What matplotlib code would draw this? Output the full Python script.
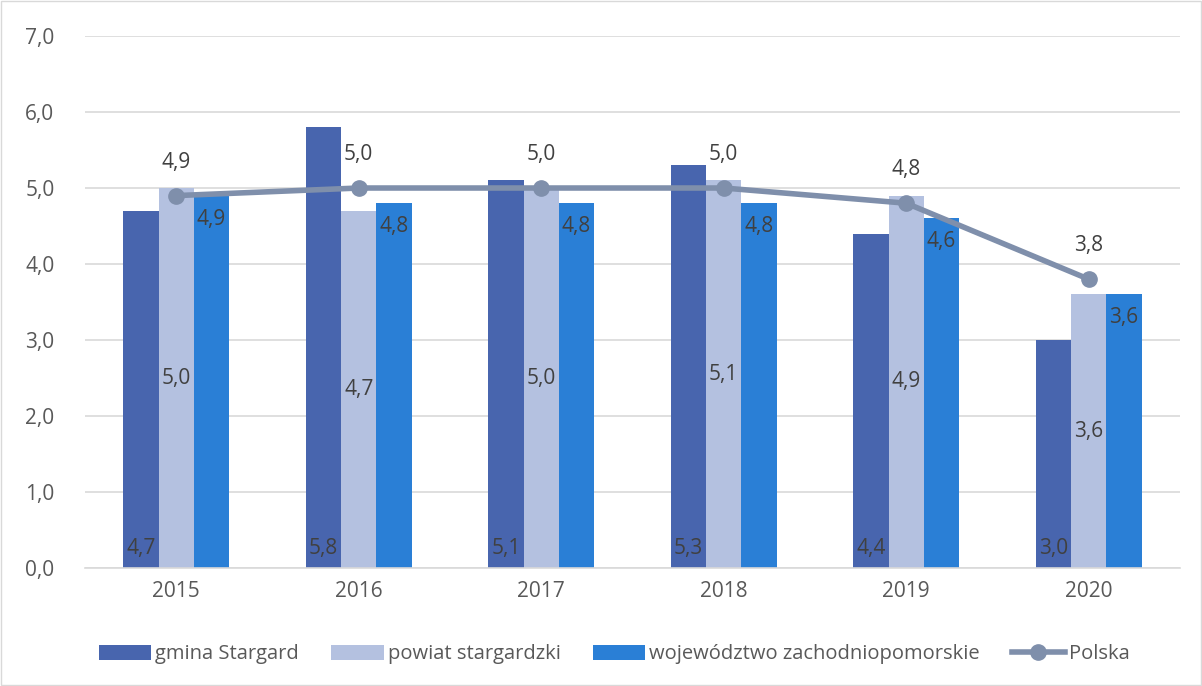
import numpy as np
import matplotlib.pyplot as plt

plt.rcParams['font.family'] = ['Open Sans', 'DejaVu Sans']

lata = ['2015', '2016', '2017', '2018', '2019', '2020']
gmina = [4.7, 5.8, 5.1, 5.3, 4.4, 3.0]
powiat = [5.0, 4.7, 5.0, 5.1, 4.9, 3.6]
wojew = [4.9, 4.8, 4.8, 4.8, 4.6, 3.6]
polska = [4.9, 5.0, 5.0, 5.0, 4.8, 3.8]

c_gm = '#4865ae'
c_pw = '#b4c1e0'
c_wj = '#2a7fd6'
c_pl = '#7f8fab'
c_txt = '#404040'

def fmt(v):
    return ('%.1f' % v).replace('.', ',')

fig = plt.figure(figsize=(12.02, 6.86), dpi=100)
ax = fig.add_axes([0.0707, 0.172, 0.911, 0.7755])

x = np.arange(len(lata))
w = 0.193
b1 = ax.bar(x - w, gmina, w, color=c_gm, label='gmina Stargard', zorder=2)
b2 = ax.bar(x, powiat, w, color=c_pw, label='powiat stargardzki', zorder=2)
b3 = ax.bar(x + w, wojew, w, color=c_wj, label='województwo zachodniopomorskie', zorder=2)
ln, = ax.plot(x, polska, color=c_pl, lw=4, marker='o', ms=11, label='Polska', zorder=3)

fs = 15
for i in range(len(lata)):
    ax.text(x[i] - w, 0.12, fmt(gmina[i]), ha='center', va='bottom', fontsize=fs, color=c_txt, zorder=4)
    ax.text(x[i], powiat[i] / 2, fmt(powiat[i]), ha='center', va='center', fontsize=fs, color=c_txt, zorder=4)
    ax.text(x[i] + w, wojew[i] - 0.17, fmt(wojew[i]), ha='center', va='top', fontsize=fs, color=c_txt, zorder=4)
    ax.text(x[i], polska[i] + 0.3, fmt(polska[i]), ha='center', va='bottom', fontsize=fs, color=c_txt, zorder=4)

ax.set_xlim(-0.5, 5.5)
ax.set_ylim(0, 7)
ax.set_yticks(np.arange(0, 7.1, 1))
ax.set_yticklabels([fmt(v) for v in np.arange(0, 7.1, 1)])
ax.set_xticks(x)
ax.set_xticklabels(lata)
ax.tick_params(axis='both', length=0, labelsize=15, labelcolor='#595959')
ax.tick_params(axis='y', pad=22)
ax.tick_params(axis='x', pad=9)
ax.grid(axis='y', color='#d9d9d9', lw=1.2, zorder=0)
ax.set_axisbelow(True)
for s in ['top', 'right', 'left']:
    ax.spines[s].set_visible(False)
ax.spines['bottom'].set_color('#d9d9d9')
ax.spines['bottom'].set_linewidth(1.2)

leg = fig.legend(handles=[b1, b2, b3, ln], loc='center', bbox_to_anchor=(0.511, 0.046), ncol=4,
                 frameon=False, fontsize=14.5, handlelength=2.6, handleheight=0.75,
                 columnspacing=1.6, handletextpad=0.2, labelcolor='#595959')

fig.patches.append(plt.Rectangle((0.001, 0.001), 0.998, 0.998, transform=fig.transFigure,
                                 fill=False, edgecolor='#d9d9d9', lw=1))

fig.savefig('out.png', dpi=100)
